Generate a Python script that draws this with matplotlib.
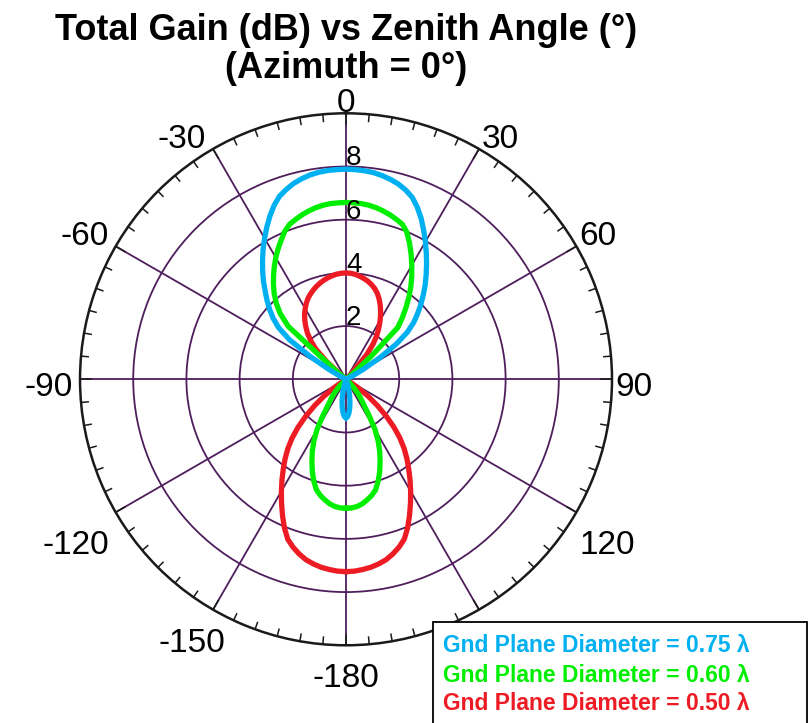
import numpy as np
import matplotlib.pyplot as plt
from matplotlib.patches import Rectangle
from matplotlib import font_manager

# total gain (dB) vs zenith angle, azimuth = 0
# front lobes are read every 2.5 deg from -lim to +lim,
# back lobes every 2.5 deg going in from 180 (same both sides)
blue_front_lim = 65
blue_front = [0.0, 0.25, 0.75, 1.6, 2.6, 3.2, 3.58, 3.9, 4.2, 4.5, 4.83, 5.15, 5.47,
              5.8, 6.12, 6.45, 6.77, 7.07, 7.32, 7.48, 7.62, 7.72, 7.8, 7.85, 7.88, 7.89,
              7.9,
              7.89, 7.87, 7.84, 7.78, 7.7, 7.6, 7.46, 7.28, 7.0, 6.68, 6.32, 5.97, 5.62,
              5.28, 4.95, 4.63, 4.3, 3.98, 3.65, 3.32, 2.9, 2.3, 1.5, 0.75, 0.25, 0.0]
blue_back = [1.45, 1.4, 1.27, 1.08, 0.85, 0.62, 0.4, 0.18, 0.0]

green_front_lim = 52.5
green_front = [0.0, 0.5, 2.95, 3.5, 3.88, 4.2, 4.48, 4.75, 5.02, 5.28, 5.53, 5.77, 6.02,
               6.2, 6.3, 6.4, 6.48, 6.55, 6.6, 6.63, 6.64,
               6.65,
               6.64, 6.63, 6.6, 6.55, 6.48, 6.4, 6.3, 6.2, 5.98, 5.65, 5.3, 4.95, 4.6,
               4.25, 3.88, 3.5, 3.13, 2.75, 1.3, 0.4, 0.0]
green_back = [4.85, 4.84, 4.8, 4.72, 4.6, 4.47, 4.3, 4.02, 3.7, 3.35, 3.0, 2.62, 2.18,
              1.62, 1.15, 0.92, 0.72, 0.45, 0.2, 0.0]

red_front_lim = 52.5
red_front = [0.0, 0.2, 1.0, 1.6, 1.95, 2.25, 2.48, 2.7, 2.9, 3.07, 3.23, 3.37, 3.48,
             3.58, 3.67, 3.75, 3.82, 3.88, 3.93, 3.97, 3.99,
             4.0,
             3.99, 3.96, 3.91, 3.85, 3.78, 3.69, 3.58, 3.44, 3.26, 3.05, 2.82, 2.57, 2.3,
             2.02, 1.68, 1.2, 0.35, 0.0, 0.0, 0.0, 0.0]
red_back = [7.23, 7.22, 7.18, 7.13, 7.05, 6.95, 6.8, 6.62, 6.4, 6.05, 5.65, 5.25, 4.86,
            4.48, 4.11, 3.76, 3.4, 3.0, 2.55, 2.05, 1.55, 1.05, 0.55, 0.0]

legend_labels = ['Gnd Plane Diameter = 0.75 λ',
                 'Gnd Plane Diameter = 0.60 λ',
                 'Gnd Plane Diameter = 0.50 λ']
colors = ['#00b0f0', '#00ee00', '#ed1c24']

theta_ticks = [0, 30, 60, 90, 120, 150, 180, 210, 240, 270, 300, 330]
theta_labels = ['0', '30', '60', '90', '120', '150', '-180', '-150', '-120', '-90', '-60', '-30']
r_ticks = [2, 4, 6, 8]


def full_pattern(front, lim, back):
    # stitch left back lobe, front lobe and right back lobe into one closed trace
    front_deg = np.arange(-lim, lim + 0.1, 2.5)
    back_deg = 180 - 2.5 * np.arange(len(back))
    deg = np.concatenate([-back_deg, front_deg, back_deg[::-1]])
    gain = np.concatenate([back, front, back[::-1]])
    return np.radians(deg), gain


installed = {f.name for f in font_manager.fontManager.ttflist}
narrow = 'Liberation Sans Narrow' if 'Liberation Sans Narrow' in installed else 'Liberation Sans'
plt.rcParams['font.family'] = ['Liberation Sans', 'DejaVu Sans']
grid_col = '#4e1e5c'

fig = plt.figure(figsize=(8.09, 7.23), dpi=100)
ax = fig.add_axes([0.0989, 0.1075, 0.6576, 0.7358], projection='polar')
ax.set_theta_zero_location('N')
ax.set_theta_direction(-1)
ax.set_rlim(0, 10)
ax.set_yticks(r_ticks)
ax.set_yticklabels([])
ax.set_xticks(np.radians(theta_ticks))
ax.set_xticklabels([])
ax.tick_params(axis='x', length=0)
ax.grid(color=grid_col, lw=1.3)
ax.spines['polar'].set_color('#1a1a1a')
ax.spines['polar'].set_linewidth(1.8)

# rim ticks every 5 deg, longer at the 30 deg spokes
for d in range(0, 360, 5):
    r0 = 9.6 if d % 30 == 0 else 9.73
    ax.plot([np.radians(d)] * 2, [r0, 10], color='#1a1a1a', lw=1.1, zorder=3)

# curves: red first so blue sits on top
for front, lim, back, c in [(red_front, red_front_lim, red_back, colors[2]),
                            (green_front, green_front_lim, green_back, colors[1]),
                            (blue_front, blue_front_lim, blue_back, colors[0])]:
    th, g = full_pattern(np.array(front), lim, np.array(back))
    ax.plot(th, g, color=c, lw=3.8, solid_joinstyle='round', zorder=4)

# angle labels around the rim
for deg, lab in zip(theta_ticks, theta_labels):
    if lab == '150':
        continue  # sits under the legend box
    t = np.radians(deg)
    s, c = np.sin(t), np.cos(t)
    if s > 0.01:
        ha, dx = 'left', 3
    elif s < -0.01:
        ha, dx = 'right', (-7 if c > -0.6 else 12)
    else:
        ha, dx = 'center', 0
    if c > 0.01:
        va, dy = 'baseline', 1
    elif c < -0.01:
        va, dy = 'top', -18
    else:
        va, dy = 'center', -8
    ax.annotate(lab, xy=(t, 10), xytext=(dx, dy), textcoords='offset pixels',
                ha=ha, va=va, fontsize=24, annotation_clip=False)

# ring values along the 0 deg spoke
for v in r_ticks:
    ax.annotate(str(v), xy=(0, v), xytext=(0, 1), textcoords='offset pixels',
                ha='left', va='baseline', fontsize=20, zorder=5)

title_size = 31.5 if narrow != 'Liberation Sans' else 26
fig.text(0.428, 1 - 40 / 723, 'Total Gain (dB) vs Zenith Angle (°)', ha='center',
         va='baseline', fontsize=title_size, fontweight='bold', family=[narrow, 'DejaVu Sans'])
fig.text(0.428, 1 - 78 / 723, '(Azimuth = 0°)', ha='center',
         va='baseline', fontsize=title_size, fontweight='bold', family=[narrow, 'DejaVu Sans'])

# legend box
fig.patches.append(Rectangle((432.7 / 809, -0.01), (807 - 432.7) / 809, (723 - 622) / 723 + 0.01,
                             transform=fig.transFigure, facecolor='white',
                             edgecolor='black', lw=1.3, zorder=10))
for i, (lab, c) in enumerate(zip(legend_labels, colors)):
    fig.text(443 / 809, 1 - (646 + 29 * i) / 723, lab, color=c, fontsize=16.5,
             fontweight='bold', ha='left', va='center', zorder=11)

fig.savefig('out.png', dpi=100)
